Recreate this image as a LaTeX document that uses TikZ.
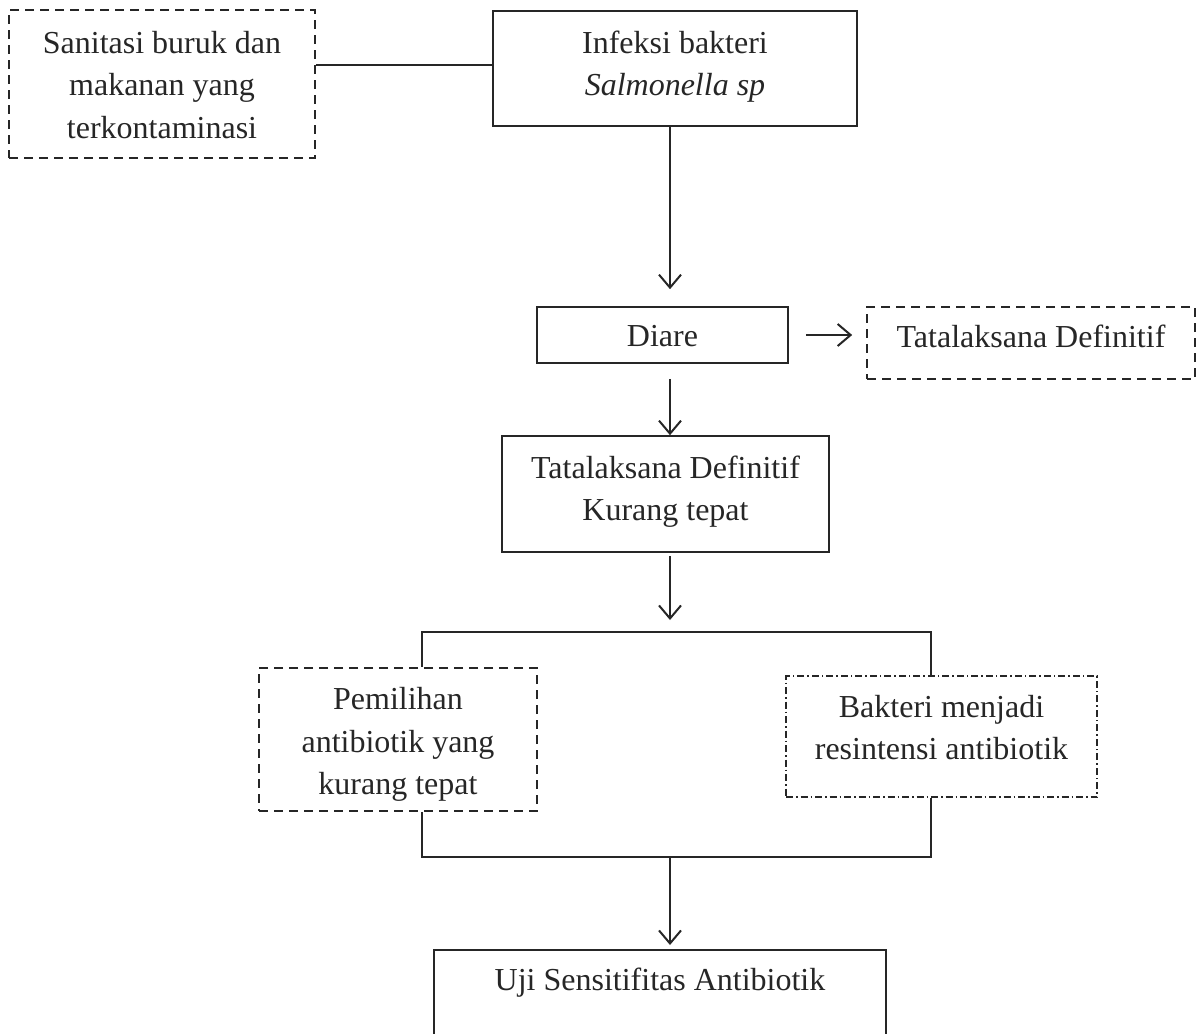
\documentclass[tikz,border=0pt]{standalone}
\usepackage{fontspec}
\setmainfont{Liberation Serif}
\usetikzlibrary{arrows.meta,calc}
\definecolor{ink}{HTML}{262626}
\tikzset{
  x=1pt,y=-1pt,
  txt/.style={text=ink, align=center, inner sep=0pt, font=\fontsize{32}{42.5}\selectfont},
  base/.style={draw=ink, line width=1.6pt, inner sep=0pt},
  solidbox/.style={base},
  dashbox/.style={base, dash pattern=on 9pt off 6pt},
  dotbox/.style={base, dash pattern=on 7pt off 3pt on 1.5pt off 3pt},
  conn/.style={draw=ink, line width=1.9pt},
  arr/.style={conn, -{Straight Barb[length=13pt,width=22pt,line width=2pt]}},
}
\begin{document}
\begin{tikzpicture}
\useasboundingbox (0,0) rectangle (1203,1034);
\clip (0,0) rectangle (1203,1034);

\node[dashbox, minimum width=306, minimum height=148,
  label={[txt, yshift=-1pt]center:Sanitasi buruk dan\\makanan yang\\terkontaminasi}] (san) at (162,84) {};
\node[solidbox, minimum width=364, minimum height=115,
  label={[txt, yshift=2pt]center:Infeksi bakteri\\\textit{Salmonella sp}}] (inf) at (675,68.5) {};
\node[solidbox, minimum width=251, minimum height=56,
  label={[txt, yshift=-1pt]center:Diare}] (diare) at (662.5,335) {};
\node[dashbox, minimum width=328, minimum height=72,
  label={[txt, yshift=7pt]center:Tatalaksana Definitif}] (tata) at (1031,343) {};
\node[solidbox, minimum width=327, minimum height=116,
  label={[txt, yshift=2.5pt]center:Tatalaksana Definitif\\Kurang tepat}] (kur) at (665.5,494) {};
\node[dashbox, minimum width=278, minimum height=143,
  label={[txt, yshift=-5pt]center:Pemilihan\\antibiotik yang\\kurang tepat}] (pem) at (398,739.5) {};
\node[dotbox, minimum width=311, minimum height=121,
  label={[txt, yshift=9pt]center:Bakteri menjadi\\resintensi antibiotik}] (bak) at (941.5,736.5) {};
\node[solidbox, anchor=north, minimum width=452, minimum height=140,
  label={[txt, anchor=center, yshift=-34pt]north:Uji Sensitifitas Antibiotik}] (uji) at (660,949) {};

\coordinate (jtop) at (670,632);
\coordinate (jbot) at (670,857);

\draw[conn] (san.east |- 0,65) -- (inf.west |- 0,65);
\draw[arr, shorten >=17pt] (inf.south -| jtop) -- (diare.north -| jtop);
\draw[arr, shorten <=17pt, shorten >=14pt] (diare.east) -- (diare.east -| tata.west);
\draw[arr, shorten <=15pt] (diare.south -| jtop) -- (kur.north -| jtop);
\draw[arr, shorten <=3pt, shorten >=12pt] (kur.south -| jtop) -- (jtop);
\draw[conn] (pem.north -| 422,0) -- (jtop -| 422,0) -- (jtop -| 931,0) -- (bak.north -| 931,0);
\draw[conn] (pem.south -| 422,0) -- (jbot -| 422,0) -- (jbot -| 931,0) -- (bak.south -| 931,0);
\draw[arr, shorten >=4pt] (jbot) -- (uji.north -| jbot);
\end{tikzpicture}
\end{document}
